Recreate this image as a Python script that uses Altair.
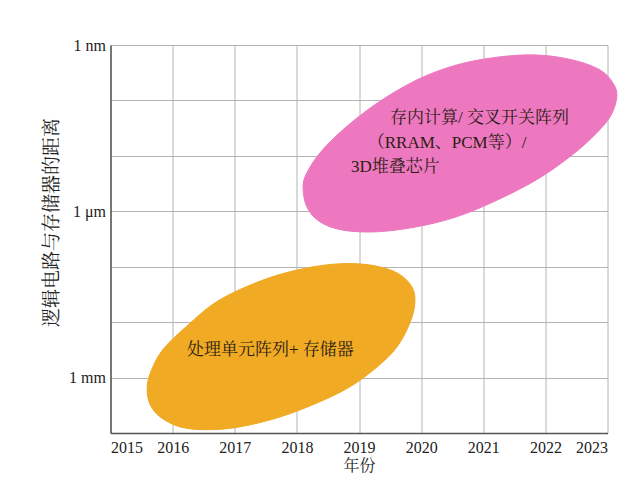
import altair as alt
import pandas as pd

# Outline of the "processing array + memory" region (year, log10 distance in m)
orange_year = [2015.59, 2015.64, 2015.84, 2016.23, 2016.71, 2017.36, 2018.00, 2018.64,
               2019.18, 2019.61, 2019.85, 2019.90, 2019.82, 2019.61, 2019.29, 2018.85,
               2018.32, 2017.73, 2017.08, 2016.55, 2016.12, 2015.80, 2015.64]
orange_exp = [-2.78, -3.08, -3.50, -3.93, -4.37, -4.72, -4.94, -5.05,
              -5.03, -4.89, -4.64, -4.35, -3.99, -3.55, -3.19, -2.83,
              -2.54, -2.29, -2.11, -2.06, -2.11, -2.29, -2.51]

# Outline of the "in-memory computing / crossbar / 3D stacking" region
pink_year = [2018.10, 2018.16, 2018.37, 2018.74, 2019.29, 2019.93, 2020.57, 2021.22,
             2021.86, 2022.44, 2022.88, 2023.09, 2023.15, 2023.04, 2022.76, 2022.39,
             2021.86, 2021.22, 2020.57, 2019.93, 2019.29, 2018.74, 2018.37, 2018.16]
pink_exp = [-6.44, -6.69, -7.05, -7.47, -7.95, -8.37, -8.64, -8.78,
            -8.82, -8.73, -8.55, -8.31, -8.06, -7.70, -7.34, -6.98,
            -6.57, -6.20, -5.90, -5.72, -5.63, -5.66, -5.81, -6.08]

label_text = ["处理单元阵列+ 存储器", "存内计算/ 交叉开关阵列", "（RRAM、PCM等）/", "3D堆叠芯片"]
label_year = [2016.23, 2019.50, 2019.14, 2018.87]
label_exp = [-3.50, -7.68, -7.23, -6.80]

years = list(range(2015, 2024))
decades = list(range(-9, -1))

FONT = "Liberation Serif, 'Noto Serif CJK SC', 'Noto Sans CJK SC', serif"

orange_df = pd.DataFrame({"year": orange_year, "exp": orange_exp, "i": range(len(orange_year))})
pink_df = pd.DataFrame({"year": pink_year, "exp": pink_exp, "i": range(len(pink_year))})
text_df = pd.DataFrame({"t": label_text, "year": label_year, "exp": label_exp})

xscale = alt.Scale(domain=[2015, 2023], nice=False, zero=False)
yscale = alt.Scale(domain=[-9, -2], reverse=True, nice=False, zero=False)

xaxis = alt.Axis(values=years, format="d", title="年份", grid=True, ticks=False,
                 labelPadding=6, titlePadding=2, titleFontSize=16)
yaxis = alt.Axis(values=decades, title="逻辑电路与存储器的距离", grid=True, ticks=False,
                 labelExpr="datum.value == -9 ? '1 nm' : datum.value == -6 ? '1 μm' : datum.value == -3 ? '1 mm' : ''",
                 labelPadding=5, titlePadding=7, titleFontSize=19, titleY=177)

orange = alt.Chart(orange_df).mark_line(
    interpolate="cardinal-closed", fill="#F0AA24", stroke="#F0AA24", strokeWidth=1
).encode(
    x=alt.X("year:Q", scale=xscale, axis=xaxis),
    y=alt.Y("exp:Q", scale=yscale, axis=yaxis),
    order="i:Q",
)

pink = alt.Chart(pink_df).mark_line(
    interpolate="cardinal-closed", fill="#EE78C0", stroke="#EE78C0", strokeWidth=1
).encode(
    x=alt.X("year:Q", scale=xscale),
    y=alt.Y("exp:Q", scale=yscale),
    order="i:Q",
)

texts = alt.Chart(text_df).mark_text(
    align="left", baseline="middle", fontSize=17, font=FONT, color="#2b1d12"
).encode(
    x=alt.X("year:Q", scale=xscale),
    y=alt.Y("exp:Q", scale=yscale),
    text="t:N",
)

chart = alt.layer(orange, pink, texts).properties(
    width=497, height=388,
    autosize=alt.AutoSizeParams(type="none"),
    padding={"left": 102.5, "top": 37, "right": 20, "bottom": 45},
).configure_view(stroke=None).configure_axis(
    labelFont=FONT, titleFont=FONT, labelFontSize=16,
    labelColor="#222222", titleColor="#222222", titleFontWeight="normal",
    gridColor="#b4b4b4", gridWidth=1, domainColor="#555555", domainWidth=1.5,
)

chart.save("out.html", embed_options={"renderer": "svg", "actions": False})
